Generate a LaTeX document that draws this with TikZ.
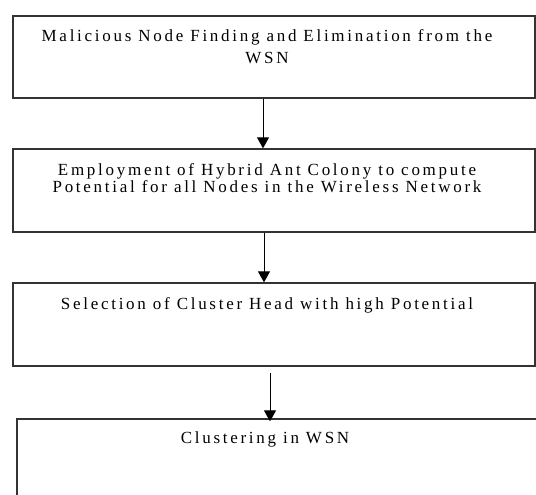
\documentclass[tikz,border=0pt]{standalone}
\usepackage{fontspec}
\setmainfont{Liberation Serif}[LetterSpace=16]
\usetikzlibrary{arrows.meta}

\begin{document}
\begin{tikzpicture}[
    x=1pt, y=-1pt,
    stage/.style={rectangle, draw=black!80, line width=1.3pt, inner sep=0pt},
    caption/.style={align=center, anchor=north, inner sep=0pt,
                    font=\fontsize{17}{17}\selectfont},
    flow/.style={-{Triangle[width=12pt,length=11pt]}, line width=1pt},
]
  \useasboundingbox (0,0) rectangle (536,495);
  \clip (0,0) rectangle (536,495);

  % boxes
  \node [stage, minimum width=522pt, minimum height=82pt] (b1) at (274,57)    {};
  \node [stage, minimum width=522pt, minimum height=83pt] (b2) at (274,190.5) {};
  \node [stage, minimum width=522pt, minimum height=83pt] (b3) at (274,324.5) {};
  \node [stage, minimum width=530pt, minimum height=100pt] (b4) at (282,469)  {};

  % texts
  \node [caption] (t1) at (267,29)  {Malicious Node Finding and Elimination from the\\[5pt] WSN};
  \node [caption] (t2) at (267,163) {Employment of Hybrid Ant Colony to compute\\ Potential for all Nodes in the Wireless Network};
  \node [caption] (t3) at (267,297) {Selection of Cluster Head with high Potential};
  \node [caption] (t4) at (265,432) {Clustering in WSN};

  % arrows
  \draw [flow] ([xshift=-11pt]b1.south) -- ([xshift=-11pt]b2.north);
  \draw [flow] ([xshift=-10pt]b2.south) -- ([xshift=-10pt]b3.north);
  \draw [flow] ([xshift=-4pt,yshift=-6pt]b3.south) -- ([xshift=-12pt,yshift=-3pt]b4.north);
\end{tikzpicture}
\end{document}
